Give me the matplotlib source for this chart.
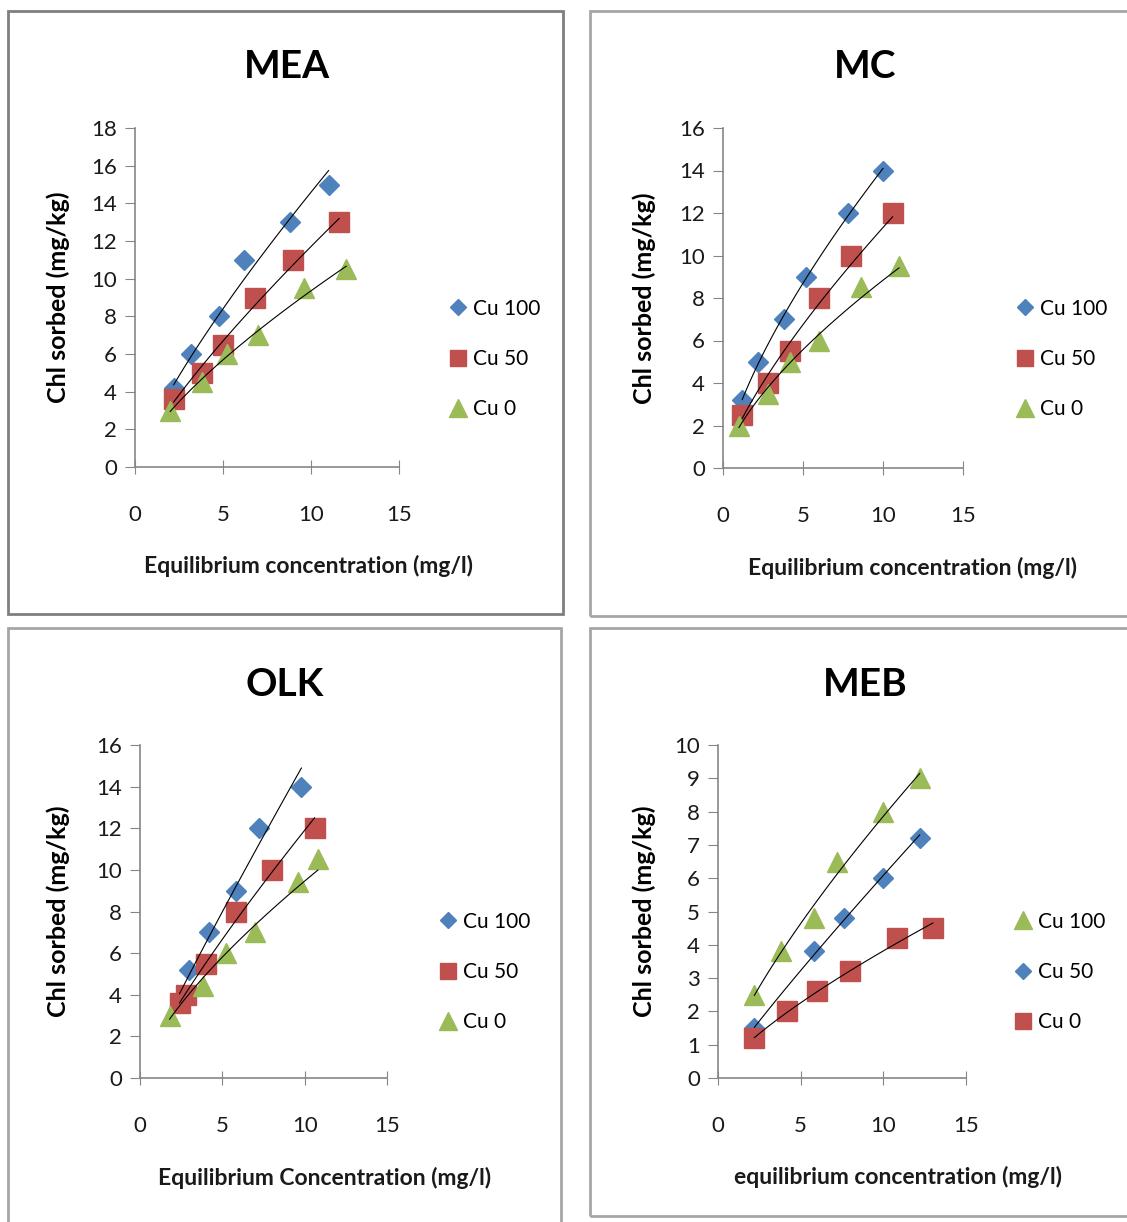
import numpy as np
import matplotlib
matplotlib.use("Agg")
import matplotlib.pyplot as plt
from matplotlib.patches import Rectangle

plt.rcParams['font.family'] = ['Lato', 'DejaVu Sans']

# ---------------- data ----------------
titles = ["MEA", "MC", "OLK", "MEB"]
xlabels = ["Equilibrium concentration (mg/l)",
           "Equilibrium concentration (mg/l)",
           "Equilibrium Concentration (mg/l)",
           "equilibrium concentration (mg/l)"]
ylabel = "Chl sorbed (mg/kg)"
ymax = [18, 16, 16, 10]
ystep = [2, 2, 2, 1]

# MEA
mea_cu100_x = [2.2, 3.2, 4.8, 6.2, 8.8, 11.0]
mea_cu100_y = [4.2, 6.0, 8.0, 11.0, 13.0, 15.0]
mea_cu50_x = [2.2, 3.8, 5.0, 6.8, 9.0, 11.6]
mea_cu50_y = [3.6, 5.0, 6.5, 9.0, 11.0, 13.0]
mea_cu0_x = [2.0, 3.8, 5.2, 7.0, 9.6, 12.0]
mea_cu0_y = [3.0, 4.5, 6.0, 7.0, 9.5, 10.5]

# MC
mc_cu100_x = [1.2, 2.2, 3.8, 5.2, 7.8, 10.0]
mc_cu100_y = [3.2, 5.0, 7.0, 9.0, 12.0, 14.0]
mc_cu50_x = [1.2, 2.8, 4.2, 6.0, 8.0, 10.6]
mc_cu50_y = [2.5, 4.0, 5.5, 8.0, 10.0, 12.0]
mc_cu0_x = [1.0, 2.8, 4.2, 6.0, 8.6, 11.0]
mc_cu0_y = [2.0, 3.5, 5.0, 6.0, 8.5, 9.5]

# OLK
olk_cu100_x = [2.4, 3.0, 4.2, 5.8, 7.2, 9.8]
olk_cu100_y = [3.8, 5.2, 7.0, 9.0, 12.0, 14.0]
olk_cu50_x = [2.4, 2.8, 4.0, 5.8, 8.0, 10.6]
olk_cu50_y = [3.6, 4.0, 5.5, 8.0, 10.0, 12.0]
olk_cu0_x = [1.8, 3.8, 5.2, 7.0, 9.6, 10.8]
olk_cu0_y = [3.0, 4.4, 6.0, 7.0, 9.4, 10.5]

# MEB
meb_cu100_x = [2.2, 3.8, 5.8, 7.2, 10.0, 12.2]
meb_cu100_y = [2.5, 3.8, 4.8, 6.5, 8.0, 9.0]
meb_cu50_x = [2.2, 5.8, 7.6, 10.0, 12.2]
meb_cu50_y = [1.5, 3.8, 4.8, 6.0, 7.2]
meb_cu0_x = [2.2, 4.2, 6.0, 8.0, 10.8, 13.0]
meb_cu0_y = [1.2, 2.0, 2.6, 3.2, 4.2, 4.5]

BLUE = "#4F81BD"
RED = "#C0504D"
GREEN = "#9BBB59"
diamond = dict(marker="D", color=BLUE, ms=10)
square = dict(marker="s", color=RED, ms=14)
triangle = dict(marker="^", color=GREEN, ms=15)

panels = [
    [("Cu 100", mea_cu100_x, mea_cu100_y, diamond),
     ("Cu 50", mea_cu50_x, mea_cu50_y, square),
     ("Cu 0", mea_cu0_x, mea_cu0_y, triangle)],
    [("Cu 100", mc_cu100_x, mc_cu100_y, diamond),
     ("Cu 50", mc_cu50_x, mc_cu50_y, square),
     ("Cu 0", mc_cu0_x, mc_cu0_y, triangle)],
    [("Cu 100", olk_cu100_x, olk_cu100_y, diamond),
     ("Cu 50", olk_cu50_x, olk_cu50_y, square),
     ("Cu 0", olk_cu0_x, olk_cu0_y, triangle)],
    [("Cu 100", meb_cu100_x, meb_cu100_y, triangle),
     ("Cu 50", meb_cu50_x, meb_cu50_y, diamond),
     ("Cu 0", meb_cu0_x, meb_cu0_y, square)],
]

W, H = 1127, 1222
fig = plt.figure(figsize=(W / 100, H / 100), dpi=100)

def fx(px):
    return px / W

def fy(py):
    return 1 - py / H

# panel borders (pixel boxes: left, top, right, bottom)
borders = [(8, 11, 563, 614), (590, 11, 1140, 616),
           (8, 628, 561, 1240), (590, 628, 1140, 1216)]
border_col = ["#7f7f7f", "#a6a6a6", "#a6a6a6", "#a6a6a6"]
for (l, t, r, b), bc in zip(borders, border_col):
    fig.patches.append(Rectangle((fx(l), fy(b)), fx(r - l), (b - t) / H,
                                 transform=fig.transFigure, fill=False,
                                 edgecolor=bc, lw=2))

# axes positions in pixels: left, right, top, bottom
axes_px = [(135, 399, 128, 467), (723, 963, 128, 468),
           (140, 387, 745, 1078), (718, 966, 745, 1078)]
title_pos = [(287, 67), (865, 67), (285, 684), (865, 684)]
xlabel_pos = [(309, 566), (912, 568), (325, 1178), (898, 1177)]
ylabel_x = [70, 656, 70, 656]
legend_pos = [(431, 280), (998, 280), (421, 893), (996, 893)]

for i, (l, r, t, b) in enumerate(axes_px):
    ax = fig.add_axes([fx(l), fy(b), fx(r - l), (b - t) / H])
    handles = []
    for name, xs, ys, st in panels[i]:
        xs_a = np.array(xs)
        ys_a = np.array(ys)
        # power trend line (Excel style)
        k, c = np.polyfit(np.log(xs_a), np.log(ys_a), 1)
        xx = np.linspace(xs_a.min(), xs_a.max(), 100)
        ax.plot(xx, np.exp(c) * xx ** k, color="black", lw=0.8, zorder=3)
        h, = ax.plot(xs, ys, linestyle="none", marker=st["marker"],
                     color=st["color"], ms=st["ms"], mec=st["color"],
                     zorder=2, label=name)
        handles.append(h)
    ax.set_xlim(0, 15)
    ax.set_ylim(0, ymax[i])
    ax.set_xticks([0, 5, 10, 15])
    ax.set_yticks(np.arange(0, ymax[i] + 0.01, ystep[i]))
    for s in ["top", "right"]:
        ax.spines[s].set_visible(False)
    for s in ["left", "bottom"]:
        ax.spines[s].set_color("#868686")
        ax.spines[s].set_linewidth(1.2)
    ax.tick_params(axis="x", direction="inout", length=10, color="#868686",
                   labelsize=16, pad=22, labelcolor="#1a1a1a")
    ax.tick_params(axis="y", direction="out", length=7, color="#868686",
                   labelsize=16, pad=6, labelcolor="#1a1a1a")
    ax.set_ylabel(ylabel, fontsize=18, fontweight="bold")
    ax.yaxis.set_label_coords((ylabel_x[i] - l) / (r - l), 0.5)
    xlx, xly = xlabel_pos[i]
    fig.text(fx(xlx), fy(xly), xlabels[i], ha="center", va="center",
             fontsize=16.5, fontweight="bold", color="#1a1a1a")
    tx, ty = title_pos[i]
    fig.text(fx(tx), fy(ty), titles[i], ha="center", va="center",
             fontsize=28, fontweight="bold")
    lx, ly = legend_pos[i]
    fig.legend(handles=handles, loc="upper left",
               bbox_to_anchor=(fx(lx), fy(ly)), frameon=False,
               fontsize=15, handlelength=0.8, handletextpad=0.3,
               labelspacing=1.45, markerscale=0.85)

fig.savefig("out.png", dpi=100)
